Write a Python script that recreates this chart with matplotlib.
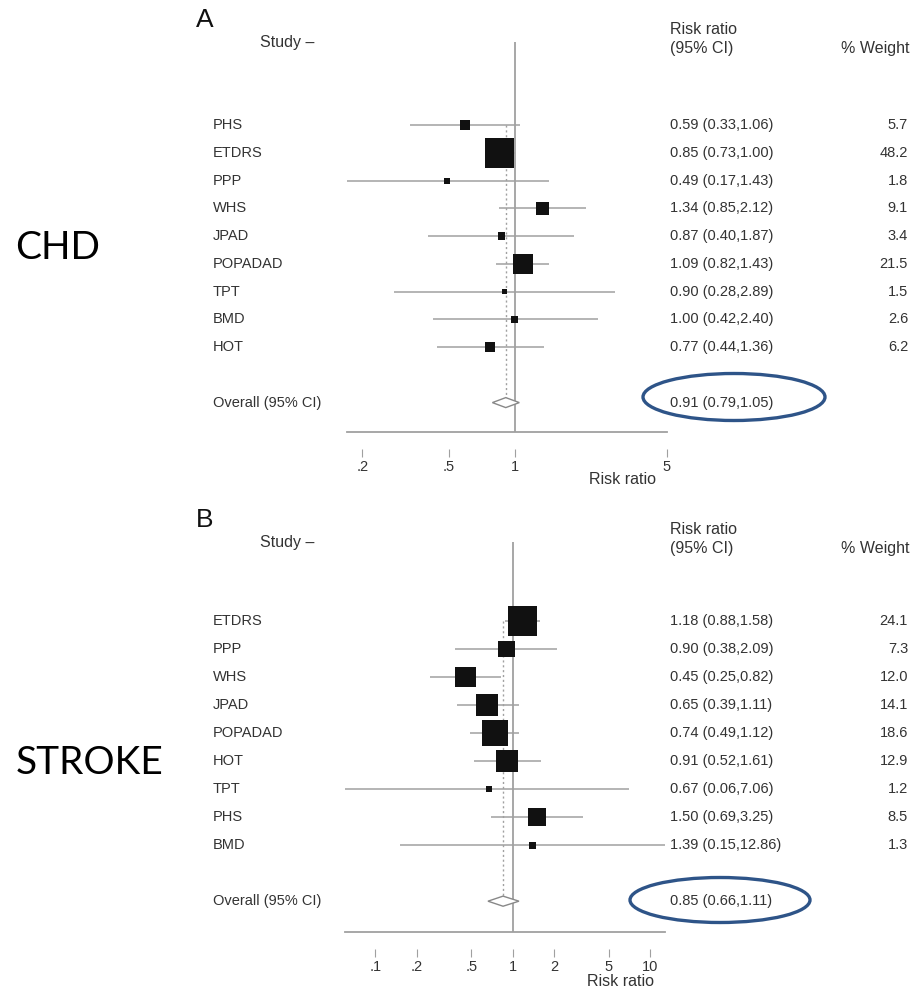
#Forest plot del riesgo relativo con aspirina: CHD (panel A) y STROKE (panel B)
import numpy as np
import matplotlib
matplotlib.use('Agg')
import matplotlib.pyplot as plt
import matplotlib.transforms as mtransforms
from matplotlib.patches import Ellipse

plt.rcParams['font.family'] = ['Liberation Sans', 'DejaVu Sans']

#Datos del panel A (CHD)
chd_estudios = ['PHS', 'ETDRS', 'PPP', 'WHS', 'JPAD', 'POPADAD', 'TPT', 'BMD', 'HOT']
chd_rr = [0.59, 0.85, 0.49, 1.34, 0.87, 1.09, 0.90, 1.00, 0.77]
chd_inf = [0.33, 0.73, 0.17, 0.85, 0.40, 0.82, 0.28, 0.42, 0.44]
chd_sup = [1.06, 1.00, 1.43, 2.12, 1.87, 1.43, 2.89, 2.40, 1.36]
chd_peso = [5.7, 48.2, 1.8, 9.1, 3.4, 21.5, 1.5, 2.6, 6.2]
chd_global = [0.91, 0.79, 1.05]
chd_ticks = [0.2, 0.5, 1, 5]
chd_ticklabels = ['.2', '.5', '1', '5']

#Datos del panel B (STROKE)
ictus_estudios = ['ETDRS', 'PPP', 'WHS', 'JPAD', 'POPADAD', 'HOT', 'TPT', 'PHS', 'BMD']
ictus_rr = [1.18, 0.90, 0.45, 0.65, 0.74, 0.91, 0.67, 1.50, 1.39]
ictus_inf = [0.88, 0.38, 0.25, 0.39, 0.49, 0.52, 0.06, 0.69, 0.15]
ictus_sup = [1.58, 2.09, 0.82, 1.11, 1.12, 1.61, 7.06, 3.25, 12.86]
ictus_peso = [24.1, 7.3, 12.0, 14.1, 18.6, 12.9, 1.2, 8.5, 1.3]
ictus_global = [0.85, 0.66, 1.11]
ictus_ticks = [0.1, 0.2, 0.5, 1, 2, 5, 10]
ictus_ticklabels = ['.1', '.2', '.5', '1', '2', '5', '10']

W, H = 913, 989
fig = plt.figure(figsize=(W/100, H/100), dpi=100)

def fx(px):
    return px/W

def fy(px):
    return 1 - px/H

gris = '#a0a0a0'
texto = '#333333'
t_cuerpo = 10.5
t_titulo = 11.5

def panel(izq, der, arriba, abajo, xlim, ylim, estudios, rr, inf, sup, peso, glob, ticks, ticklabels,
          letra, y_titulo):
    ax = fig.add_axes([fx(izq), fy(abajo), fx(der - izq), (abajo - arriba)/H])
    ax.set_xscale('log')
    ax.set_xlim(xlim)
    ax.set_ylim(ylim)
    n = len(estudios)
    filas = np.arange(n)
    fila_global = n + 1

    #intervalos de confianza y cajas proporcionales al peso
    ax.hlines(filas, inf, sup, color=gris, lw=1.1, zorder=1)
    lado = 29.5*np.sqrt(np.array(peso)/max(peso))
    ax.scatter(rr, filas, marker='s', s=(lado*72/100)**2, color='#111111', lw=0, zorder=3)

    #linea de no efecto y linea del efecto global
    ax.axvline(1, color=gris, lw=1.3, zorder=2)
    ax.vlines(glob[0], 0, fila_global, color=gris, lw=1, linestyles=(0, (1.5, 2)), zorder=2)
    rombo_x = [glob[1], glob[0], glob[2], glob[0], glob[1]]
    rombo_y = [fila_global, fila_global - 0.18, fila_global, fila_global + 0.18, fila_global]
    ax.fill(rombo_x, rombo_y, facecolor='white', edgecolor='#888888', lw=1, zorder=4)

    #eje x
    for s in ['top', 'right', 'left']:
        ax.spines[s].set_visible(False)
    ax.spines['bottom'].set_position(('outward', 12))
    ax.spines['bottom'].set_visible(False)
    ax.plot([0, 1], [0, 0], transform=ax.transAxes, color=gris, lw=1.3, clip_on=False)
    ax.set_yticks([])
    ax.set_xticks(ticks)
    ax.set_xticklabels(ticklabels)
    ax.xaxis.set_minor_locator(matplotlib.ticker.NullLocator())
    ax.tick_params(axis='x', direction='out', length=6, width=0.8, color=gris,
                   labelsize=10.5, labelcolor=texto, pad=2)
    ax.set_xlabel('Risk ratio', fontsize=t_titulo, color=texto)
    ax.xaxis.set_label_coords(0.86, y_titulo)

    #columnas de texto
    trans = mtransforms.blended_transform_factory(fig.transFigure, ax.transData)
    for i in range(n):
        ax.text(fx(213), filas[i], estudios[i], transform=trans, ha='left', va='center',
                fontsize=t_cuerpo, color=texto)
        ax.text(fx(670), filas[i], f'{rr[i]:.2f} ({inf[i]:.2f},{sup[i]:.2f})', transform=trans,
                ha='left', va='center', fontsize=t_cuerpo, color=texto)
        ax.text(fx(908), filas[i], f'{peso[i]:.1f}', transform=trans, ha='right', va='center',
                fontsize=t_cuerpo, color=texto)
    ax.text(fx(213), fila_global, 'Overall (95% CI)', transform=trans, ha='left', va='center',
            fontsize=t_cuerpo, color=texto)
    ax.text(fx(670), fila_global, f'{glob[0]:.2f} ({glob[1]:.2f},{glob[2]:.2f})', transform=trans,
            ha='left', va='center', fontsize=t_cuerpo, color=texto)

    #encabezados
    fig.text(fx(260), fy(arriba + 1), 'Study \u2013', ha='left', va='center', fontsize=t_titulo, color=texto)
    fig.text(fx(670), fy(arriba - 12), 'Risk ratio', ha='left', va='center', fontsize=t_titulo, color=texto)
    fig.text(fx(670), fy(arriba + 6), '(95% CI)', ha='left', va='center', fontsize=t_titulo, color=texto)
    fig.text(fx(909), fy(arriba + 6), '% Weight', ha='right', va='center', fontsize=t_titulo, color=texto)
    fig.text(fx(196), fy(arriba - 22), letra, ha='left', va='center', fontsize=19, color='#111111')
    return ax

panel(347, 667, 42, 432, (0.17, 5), (11.06, -3.0), chd_estudios, chd_rr, chd_inf, chd_sup,
      chd_peso, chd_global, chd_ticks, chd_ticklabels, 'A', -0.102)
panel(345, 665, 542, 932, (0.06, 12.86), (11.1, -2.82), ictus_estudios, ictus_rr, ictus_inf,
      ictus_sup, ictus_peso, ictus_global, ictus_ticks, ictus_ticklabels, 'B', -0.108)

#etiquetas de cada desenlace
fig.text(fx(15), fy(248), 'CHD', ha='left', va='center', fontsize=28, family=['Lato', 'DejaVu Sans'])
fig.text(fx(16), fy(763), 'STROKE', ha='left', va='center', fontsize=28, family=['Lato', 'DejaVu Sans'])

#elipses que resaltan el efecto global
azul = '#2e5488'
fig.patches.append(Ellipse((fx(734), fy(397)), fx(182), 47/H, transform=fig.transFigure,
                           fill=False, edgecolor=azul, lw=2.4))
fig.patches.append(Ellipse((fx(720), fy(900)), fx(180), 45/H, transform=fig.transFigure,
                           fill=False, edgecolor=azul, lw=2.4))

plt.savefig('out.png', dpi=100)
